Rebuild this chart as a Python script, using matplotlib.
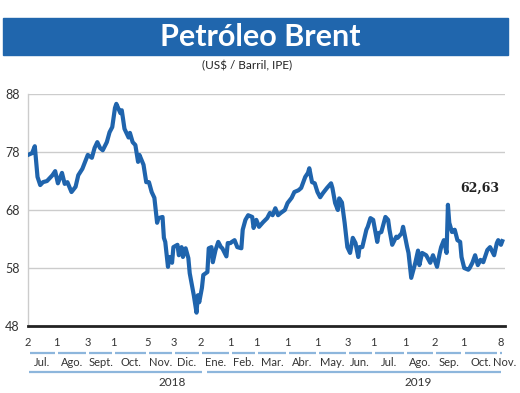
import matplotlib
matplotlib.use("Agg")
import matplotlib.pyplot as plt
from matplotlib.patches import Rectangle

# Trading-day index (0 = 2 Jul 2018) and Brent price (US$/barrel)
days = [0, 3, 5, 7, 9, 11, 14, 18, 20, 22, 25, 27, 29, 32, 35, 37, 40, 42, 44, 47,
        49, 51, 53, 55, 58, 60, 62, 64, 65, 68, 69, 71, 74, 75, 77, 79, 81, 82, 85, 87,
        89, 91, 93, 95, 96, 99, 100, 101, 103, 104, 106, 107, 110, 111, 113, 114, 116, 118, 119, 121,
        122, 124, 125, 126, 128, 129, 132, 133, 135, 136, 138, 140, 142, 143, 146, 147, 149, 150, 152, 154,
        157, 158, 160, 162, 165, 166, 168, 170, 173, 176, 178, 180, 182, 184, 186, 189, 191, 194, 196, 199,
        201, 204, 206, 207, 209, 211, 213, 215, 217, 220, 223, 224, 226, 228, 229, 231, 233, 235, 237, 239,
        241, 243, 244, 246, 249, 250, 252, 254, 257, 258, 260, 263, 265, 266, 268, 271, 272, 275, 276, 279,
        280, 282, 285, 287, 288, 290, 293, 296, 298, 301, 303, 304, 306, 308, 309, 310, 312, 314, 316, 318,
        319, 321, 324, 325, 327, 329, 331, 333, 335, 338, 340, 343, 345, 346, 348, 349]
prices = [77.5, 77.8, 79.0, 73.7, 72.3, 72.8, 73.0, 74.0, 74.7, 72.6, 74.4, 72.5, 72.8, 71.1, 72.0, 74.0, 75.1, 76.3, 77.5, 77.0,
          78.7, 79.7, 78.7, 78.3, 79.7, 81.4, 82.3, 85.6, 86.3, 84.7, 85.2, 82.0, 80.5, 81.3, 79.7, 79.2, 76.3, 77.5, 75.8, 72.8,
          72.8, 71.1, 70.1, 65.8, 66.6, 66.8, 63.2, 62.5, 58.2, 59.9, 58.9, 61.6, 62.0, 60.2, 61.6, 59.9, 61.4, 59.7, 57.1, 54.6,
          53.3, 50.3, 53.3, 52.1, 54.6, 56.8, 57.3, 61.4, 61.6, 59.0, 61.1, 62.5, 61.6, 61.4, 60.0, 62.3, 62.3, 62.5, 62.8, 61.6,
          61.4, 64.6, 66.3, 67.1, 66.8, 64.9, 66.3, 65.1, 65.9, 66.6, 67.5, 67.1, 68.3, 67.1, 67.5, 68.0, 69.2, 70.1, 71.1, 71.4,
          71.8, 73.7, 74.4, 75.2, 72.8, 72.6, 71.1, 70.2, 70.9, 71.8, 72.6, 71.8, 69.2, 68.0, 70.0, 69.3, 65.8, 61.6, 60.6, 63.2,
          62.3, 59.9, 61.6, 61.6, 64.6, 65.1, 66.6, 66.3, 62.5, 64.0, 64.2, 66.8, 66.3, 64.6, 62.0, 63.4, 63.2, 64.0, 65.1, 61.6,
          60.6, 56.3, 58.9, 61.0, 58.5, 60.6, 60.2, 58.9, 60.2, 58.2, 60.6, 61.6, 62.8, 60.6, 68.9, 65.8, 64.2, 64.6, 62.8, 62.5,
          59.9, 58.0, 57.7, 58.0, 58.9, 60.2, 58.5, 59.4, 59.0, 61.1, 61.6, 60.2, 62.3, 62.8, 62.0, 62.63]

# Axis labelling
tick_days = [0, 21, 44, 63, 88, 107, 127, 149, 168, 191, 213, 235, 254, 278, 299, 320, 348]
tick_labels = ["2", "1", "3", "1", "5", "3", "2", "1", "1", "1", "1", "3", "1", "1", "2", "1", "8"]
month_bounds = [0, 21, 44, 63, 88, 107, 127, 149, 168, 191, 213, 235, 254, 278, 299, 320, 346, 356]
months = ["Jul.", "Ago.", "Sept.", "Oct.", "Nov.", "Dic.", "Ene.", "Feb.", "Mar.", "Abr.",
          "May.", "Jun.", "Jul.", "Ago.", "Sep.", "Oct.", "Nov."]
years = ["2018", "2019"]
year_spans = [(1, 128), (132, 348)]
year_label_pos = [106, 287]
y_ticks = [48, 58, 68, 78, 88]
last_label = "62,63"

BLUE = "#1f64ad"
LIGHTBLUE = "#8db6dc"

fig = plt.figure(figsize=(5.2, 3.93), dpi=100)
W, H = 520, 393

# Title banner
fig.patches.append(Rectangle((3 / W, 1 - 55 / H), 505 / W, 37 / H,
                             transform=fig.transFigure, color="#2066ad", zorder=0))
fig.text(0.5, 1 - 37 / H, "Petróleo Brent", color="white", fontsize=22,
         fontweight="bold", family="Lato", ha="center", va="center")
fig.text(247 / W, 1 - 66 / H, "(US$ / Barril, IPE)", color="#222222", fontsize=8.5,
         family="Lato", ha="center", va="center")

ax = fig.add_axes([28 / W, 67 / H, 477 / W, 232 / H])
ax.plot(days, prices, color=BLUE, lw=3.0, solid_joinstyle="round", zorder=3)
ax.set_xlim(0, 351)
ax.set_ylim(48, 88)
ax.set_yticks(y_ticks)
ax.set_yticklabels([str(v) for v in y_ticks], fontsize=9, family="Lato", color="#333333")
ax.tick_params(axis="y", length=0, pad=6)
ax.set_xticks([])
for v in y_ticks[1:]:
    ax.axhline(v, color="#cccccc", lw=1.0, zorder=1)
for s in ["top", "right"]:
    ax.spines[s].set_visible(False)
ax.spines["left"].set_color("#cccccc")
ax.spines["left"].set_linewidth(1.0)
ax.spines["bottom"].set_color("#222222")
ax.spines["bottom"].set_linewidth(2.0)

tr = ax.get_xaxis_transform()


def ay(px):
    return (326 - px) / 232.0


for d, lab in zip(tick_days, tick_labels):
    ax.text(d, ay(343), lab, transform=tr, ha="center", va="center",
            fontsize=8, family="Lato", color="#333333", clip_on=False)

for i, m in enumerate(months):
    a = month_bounds[i]
    b = month_bounds[i + 1]
    seg_end = min(b, 350) - 1.2
    ax.plot([a + 1.2, seg_end], [ay(353), ay(353)], transform=tr, color=LIGHTBLUE,
            lw=1.6, clip_on=False, solid_capstyle="butt")
    ax.text((a + b) / 2, ay(362), m, transform=tr, ha="center", va="center",
            fontsize=8, family="Lato", color="#333333", clip_on=False)

for (a, b), y, xp in zip(year_spans, years, year_label_pos):
    ax.plot([a, b], [ay(372), ay(372)], transform=tr, color=LIGHTBLUE,
            lw=1.6, clip_on=False, solid_capstyle="butt")
    ax.text(xp, ay(382), y, transform=tr, ha="center", va="center",
            fontsize=8.5, family="Lato", color="#333333", clip_on=False)

ax.text(days[-1] - 2, 71.8, last_label, ha="right", va="center", fontsize=9,
        fontweight="bold", family="DejaVu Serif", color="#222222")

fig.savefig("out.png", dpi=100)
